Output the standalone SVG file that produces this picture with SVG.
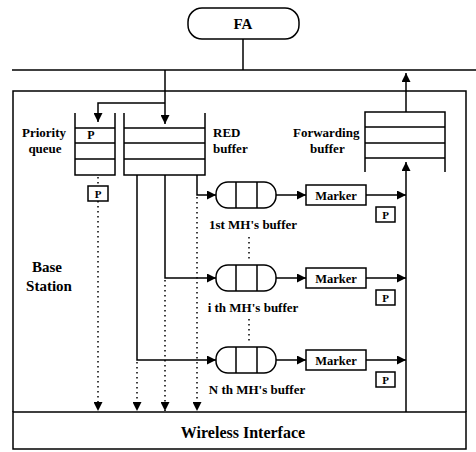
<svg xmlns="http://www.w3.org/2000/svg" width="476" height="452" viewBox="0 0 476 452">
<defs>
<marker id="ah" viewBox="0 0 10 10" refX="10" refY="5" markerWidth="9" markerHeight="9" markerUnits="userSpaceOnUse" orient="auto"><path d="M0,0 L10,5 L0,10 Z" fill="#000"/></marker>
</defs>
<style>
.t{font-family:"Liberation Serif","Times New Roman",serif;font-weight:bold;fill:#000}
.s{fill:none;stroke:#000;stroke-width:1.5}
.b{fill:#fff;stroke:#000;stroke-width:1.5}
.d{fill:none;stroke:#000;stroke-width:1.5;stroke-dasharray:1.5,3.5}
.a{marker-end:url(#ah)}
</style>
<rect width="476" height="452" fill="#fff"/>

<g id="fa">
<rect x="188" y="8" width="111" height="31" rx="14" class="b"/>
<text x="243" y="29" class="t" font-size="15" text-anchor="middle">FA</text>
</g>

<g id="base-station">
<path d="M13,412 V91 H466 V412" class="s" stroke-width="1.8"/>
<text x="47" y="272" class="t" font-size="15" text-anchor="middle">Base</text>
<text x="49" y="291" class="t" font-size="15" text-anchor="middle">Station</text>
</g>

<g id="wireless-interface">
<rect x="13" y="412" width="453" height="37" class="s" stroke-width="1.8"/>
<text x="243" y="438" class="t" font-size="16" text-anchor="middle">Wireless Interface</text>
</g>

<g id="priority-queue">
<path d="M75,113 V175 H115 V113 M75,128 H115 M75,143 H115 M75,159 H115" class="s"/>
<text x="91" y="139" class="t" font-size="12" text-anchor="middle">P</text>
<text x="44" y="137" class="t" font-size="13" text-anchor="middle">Priority</text>
<text x="45" y="153" class="t" font-size="13" text-anchor="middle">queue</text>
</g>

<g id="red-buffer">
<path d="M124,113 V175 H205 V113 M124,128 H205 M124,143 H205 M124,159 H205" class="s"/>
<text x="213" y="137" class="t" font-size="13">RED</text>
<text x="213" y="153" class="t" font-size="13">buffer</text>
</g>

<g id="forwarding-buffer">
<path d="M365,172 V112 H445 V172 M365,127 H445 M365,143 H445 M365,158 H445" class="s"/>
<text x="293" y="137" class="t" font-size="13">Forwarding</text>
<text x="310" y="153" class="t" font-size="13">buffer</text>
</g>

<g id="p-priority">
<rect x="88" y="186" width="20" height="15" class="b"/>
<text x="98" y="198" class="t" font-size="11" text-anchor="middle">P</text>
</g>

<g id="mh1-buffer">
<rect x="216" y="182" width="60" height="26" rx="12" class="b"/>
<path d="M236,182 V208 M257,182 V208" class="s"/>
<text x="253" y="229" class="t" font-size="13" text-anchor="middle">1st MH's buffer</text>
</g>
<g id="marker1">
<rect x="306" y="185" width="60" height="20" class="b"/>
<text x="336" y="199.5" class="t" font-size="12.5" text-anchor="middle">Marker</text>
</g>
<g id="p1">
<rect x="376" y="207" width="19" height="15" class="b"/>
<text x="385.5" y="219" class="t" font-size="11" text-anchor="middle">P</text>
</g>

<g id="mhi-buffer">
<rect x="216" y="265" width="60" height="26" rx="12" class="b"/>
<path d="M236,265 V291 M257,265 V291" class="s"/>
<text x="253" y="312" class="t" font-size="13" text-anchor="middle">i th MH's buffer</text>
</g>
<g id="markeri">
<rect x="306" y="268" width="60" height="20" class="b"/>
<text x="336" y="282.5" class="t" font-size="12.5" text-anchor="middle">Marker</text>
</g>
<g id="pi">
<rect x="376" y="290" width="19" height="15" class="b"/>
<text x="385.5" y="302" class="t" font-size="11" text-anchor="middle">P</text>
</g>

<g id="mhn-buffer">
<rect x="216" y="347" width="60" height="26" rx="12" class="b"/>
<path d="M236,347 V373 M257,347 V373" class="s"/>
<text x="257" y="394" class="t" font-size="13" text-anchor="middle">N th MH's buffer</text>
</g>
<g id="markern">
<rect x="306" y="350" width="60" height="20" class="b"/>
<text x="336" y="364.5" class="t" font-size="12.5" text-anchor="middle">Marker</text>
</g>
<g id="pn">
<rect x="376" y="372" width="19" height="15" class="b"/>
<text x="385.5" y="384" class="t" font-size="11" text-anchor="middle">P</text>
</g>

<g id="connectors">
<path d="M12,70 H476" class="s" stroke-width="1.8"/>
<path d="M243,39 V70" class="s" stroke-width="1.8"/>
<path d="M165,70 V124" class="s a"/>
<path d="M165,103 H98 V122" class="s a"/>
<path d="M406,112 V73" class="s a"/>
<path d="M406,412 V162" class="s a"/>
<path d="M197,175 V195 H216" class="s a"/>
<path d="M165,175 V278 H216" class="s a"/>
<path d="M137,175 V360 H216" class="s a"/>
<path d="M276,195 H306" class="s a"/>
<path d="M276,278 H306" class="s a"/>
<path d="M276,360 H306" class="s a"/>
<path d="M366,195 H406" class="s a"/>
<path d="M366,278 H406" class="s a"/>
<path d="M366,360 H406" class="s a"/>
<path d="M98,177 V186" class="d"/>
<path d="M98,201 V411" class="d a"/>
<path d="M137,362 V411" class="d a"/>
<path d="M165,280 V411" class="d a"/>
<path d="M197,197 V411" class="d a"/>
<path d="M249,237 V259" class="d"/>
<path d="M249,319 V343" class="d"/>
</g>
</svg>
